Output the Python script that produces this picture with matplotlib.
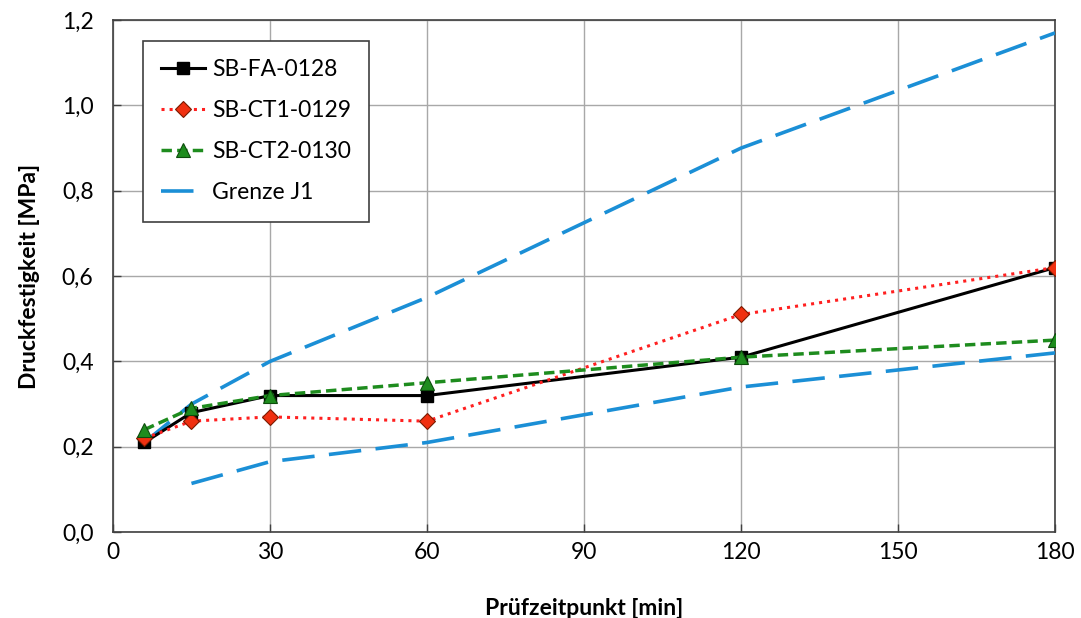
import matplotlib
matplotlib.use("Agg")
import matplotlib.pyplot as plt
from matplotlib.ticker import FuncFormatter

plt.rcParams.update({"font.family": ["Lato", "DejaVu Sans"], "font.size": 16.5})

# Prüfzeitpunkte [min] und Druckfestigkeiten [MPa]
t_probe = [6, 15, 30, 60, 120, 180]
fa_0128 = [0.21, 0.28, 0.32, 0.32, 0.41, 0.62]
ct1_0129 = [0.22, 0.26, 0.27, 0.26, 0.51, 0.62]
ct2_0130 = [0.24, 0.29, 0.32, 0.35, 0.41, 0.45]

# Grenzkurven J1 (oben / unten)
t_j1_oben = [6, 15, 30, 60, 120, 180]
j1_oben = [0.21, 0.30, 0.40, 0.55, 0.90, 1.17]
t_j1_unten = [15, 30, 60, 120, 180]
j1_unten = [0.114, 0.165, 0.21, 0.34, 0.42]

BLUE = "#1b8fd6"

fig = plt.figure(figsize=(10.81, 6.18), dpi=100)
ax = fig.add_axes([0.1045, 0.139, 0.8715, 0.8285])

ax.plot(t_probe, fa_0128, "-s", color="black", lw=2.2, ms=8,
        mfc="black", mec="black", label="SB-FA-0128", zorder=4)
ax.plot(t_probe, ct1_0129, ":D", color="#ff2020", lw=2.2, ms=8,
        mfc="#f03010", mec="#7a1a00", mew=0.8, label="SB-CT1-0129", zorder=4)
ax.plot(t_probe, ct2_0130, "--^", color="#1e8c1e", lw=2.5, ms=10,
        mfc="#1e8c1e", mec="#0d4d0d", mew=0.8, dashes=(3, 1.5),
        label="SB-CT2-0130", zorder=4)
ax.plot(t_j1_oben, j1_oben, color=BLUE, lw=2.6, dashes=(9, 4),
        label="Grenze J1", zorder=3)
ax.plot(t_j1_unten, j1_unten, color=BLUE, lw=2.6, dashes=(9, 4), zorder=3)

ax.set_xlim(0, 180)
ax.set_ylim(0, 1.2)
ax.set_xticks(range(0, 181, 30))
ax.set_yticks([0, 0.2, 0.4, 0.6, 0.8, 1.0, 1.2])
ax.yaxis.set_major_formatter(FuncFormatter(lambda v, p: f"{v:.1f}".replace(".", ",")))
ax.grid(True, color="#a8a8a8", lw=1)
ax.set_axisbelow(True)
for s in ax.spines.values():
    s.set_color("#404040")
    s.set_linewidth(1.2)
ax.tick_params(length=6, width=1, color="#404040", labelsize=16.5)
ax.tick_params(axis="x", direction="in", pad=7)
ax.tick_params(axis="y", direction="in", pad=14)

ax.set_xlabel("Prüfzeitpunkt [min]", fontweight="bold", fontsize=16.5, labelpad=25)
ax.set_ylabel("Druckfestigkeit [MPa]", fontweight="bold", fontsize=16.5, labelpad=16)

leg = ax.legend(loc="upper left", bbox_to_anchor=(0.032, 0.959), borderaxespad=0,
                fontsize=16.5, handlelength=1.9, handletextpad=0.3,
                labelspacing=0.87, borderpad=0.8, fancybox=False,
                edgecolor="#404040", framealpha=1)
leg.get_frame().set_linewidth(1.2)

fig.savefig("out.png", dpi=100, facecolor="white")
